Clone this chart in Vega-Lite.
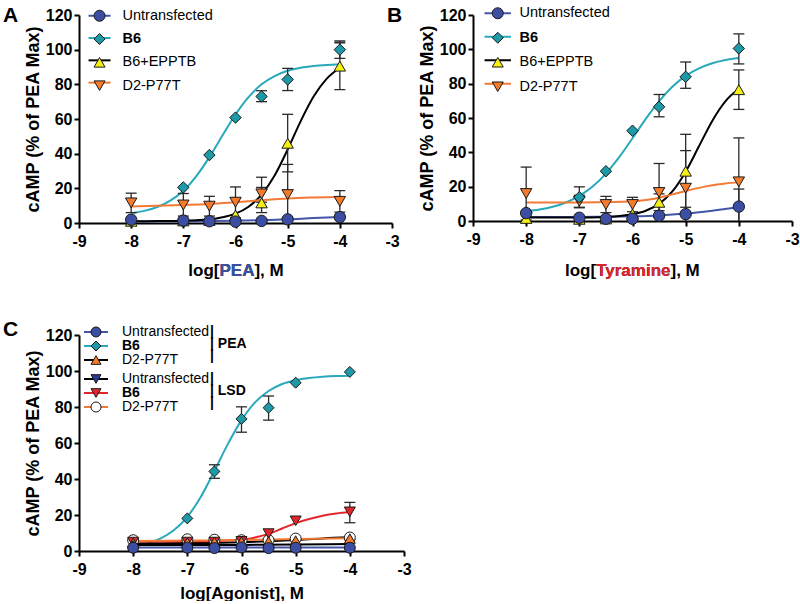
{
"$schema": "https://vega.github.io/schema/vega-lite/v6.json",
"background": "white",
"padding": {"left": 3, "top": 5, "right": 0, "bottom": 0},
"config": {
 "font": "Liberation Sans",
 "view": {"stroke": null},
 "axis": {"domainColor": "#000", "domainWidth": 2, "tickColor": "#000", "tickWidth": 2, "tickSize": 5, "labelFont": "Liberation Sans", "labelFontSize": 16, "labelFontWeight": "bold", "labelColor": "#000", "titleFont": "Liberation Sans", "titleFontSize": 17, "titleFontWeight": "bold", "titleColor": "#000", "grid": false, "labelFlush": false, "labelOverlap": false},
 "axisY": {"titleFontSize": 18, "titlePadding": 3, "labelPadding": 2},
 "axisX": {"labelPadding": 5, "titlePadding": 8},
 "legend": {"labelFont": "Liberation Sans", "labelColor": "#000", "titleColor": "#000", "padding": 0, "offset": 0, "direction": "vertical", "columns": 1}
},
"datasets": {
"crv": [
{"p":"A","s":"Untransfected","x":-8,"y":0.8},{"p":"A","s":"Untransfected","x":-7,"y":1.0},{"p":"A","s":"Untransfected","x":-6,"y":1.3},{"p":"A","s":"Untransfected","x":-5.5,"y":1.6},{"p":"A","s":"Untransfected","x":-5,"y":2.1},{"p":"A","s":"Untransfected","x":-4.5,"y":2.9},{"p":"A","s":"Untransfected","x":-4,"y":3.5},
{"p":"A","s":"B6","x":-8,"y":5.7},{"p":"A","s":"B6","x":-7.75,"y":7.0},{"p":"A","s":"B6","x":-7.5,"y":9.2},{"p":"A","s":"B6","x":-7.25,"y":12.9},{"p":"A","s":"B6","x":-7,"y":18.6},{"p":"A","s":"B6","x":-6.75,"y":27.1},{"p":"A","s":"B6","x":-6.5,"y":38.0},{"p":"A","s":"B6","x":-6.25,"y":50.5},{"p":"A","s":"B6","x":-6,"y":62.6},{"p":"A","s":"B6","x":-5.75,"y":72.6},{"p":"A","s":"B6","x":-5.5,"y":80.0},{"p":"A","s":"B6","x":-5.25,"y":84.8},{"p":"A","s":"B6","x":-5,"y":87.8},{"p":"A","s":"B6","x":-4.75,"y":89.6},{"p":"A","s":"B6","x":-4.5,"y":90.6},{"p":"A","s":"B6","x":-4.25,"y":91.2},{"p":"A","s":"B6","x":-4,"y":91.6},
{"p":"A","s":"B6+EPPTB","x":-8,"y":1.0},{"p":"A","s":"B6+EPPTB","x":-7.5,"y":1.1},{"p":"A","s":"B6+EPPTB","x":-7,"y":1.3},{"p":"A","s":"B6+EPPTB","x":-6.75,"y":1.6},{"p":"A","s":"B6+EPPTB","x":-6.5,"y":2.1},{"p":"A","s":"B6+EPPTB","x":-6.25,"y":3.3},{"p":"A","s":"B6+EPPTB","x":-6,"y":5.4},{"p":"A","s":"B6+EPPTB","x":-5.75,"y":9.4},{"p":"A","s":"B6+EPPTB","x":-5.5,"y":16.4},{"p":"A","s":"B6+EPPTB","x":-5.25,"y":27.4},{"p":"A","s":"B6+EPPTB","x":-5,"y":42.4},{"p":"A","s":"B6+EPPTB","x":-4.75,"y":58.8},{"p":"A","s":"B6+EPPTB","x":-4.5,"y":73.1},{"p":"A","s":"B6+EPPTB","x":-4.25,"y":83.3},{"p":"A","s":"B6+EPPTB","x":-4,"y":89.6},
{"p":"A","s":"D2-P77T","x":-8,"y":9.5},{"p":"A","s":"D2-P77T","x":-7,"y":10.4},{"p":"A","s":"D2-P77T","x":-6.5,"y":11.0},{"p":"A","s":"D2-P77T","x":-6,"y":12.0},{"p":"A","s":"D2-P77T","x":-5.5,"y":13.2},{"p":"A","s":"D2-P77T","x":-5,"y":14.2},{"p":"A","s":"D2-P77T","x":-4.5,"y":14.7},{"p":"A","s":"D2-P77T","x":-4,"y":15.0},
{"p":"B","s":"Untransfected","x":-8,"y":2.3},{"p":"B","s":"Untransfected","x":-7,"y":2.4},{"p":"B","s":"Untransfected","x":-6.5,"y":2.5},{"p":"B","s":"Untransfected","x":-6,"y":2.7},{"p":"B","s":"Untransfected","x":-5.5,"y":3.2},{"p":"B","s":"Untransfected","x":-5,"y":4.3},{"p":"B","s":"Untransfected","x":-4.5,"y":6.0},{"p":"B","s":"Untransfected","x":-4,"y":8.0},
{"p":"B","s":"B6","x":-8,"y":5.65},{"p":"B","s":"B6","x":-7.75,"y":6.66},{"p":"B","s":"B6","x":-7.5,"y":8.27},{"p":"B","s":"B6","x":-7.25,"y":10.79},{"p":"B","s":"B6","x":-7,"y":14.6},{"p":"B","s":"B6","x":-6.75,"y":20.06},{"p":"B","s":"B6","x":-6.5,"y":27.64},{"p":"B","s":"B6","x":-6.25,"y":37.2},{"p":"B","s":"B6","x":-6,"y":48.2},{"p":"B","s":"B6","x":-5.75,"y":59.5},{"p":"B","s":"B6","x":-5.5,"y":69.7},{"p":"B","s":"B6","x":-5.25,"y":78.2},{"p":"B","s":"B6","x":-5,"y":84.5},{"p":"B","s":"B6","x":-4.75,"y":88.9},{"p":"B","s":"B6","x":-4.5,"y":91.9},{"p":"B","s":"B6","x":-4.25,"y":93.8},{"p":"B","s":"B6","x":-4,"y":95.0},
{"p":"B","s":"B6+EPPTB","x":-8,"y":2.0},{"p":"B","s":"B6+EPPTB","x":-7,"y":2.0},{"p":"B","s":"B6+EPPTB","x":-6.5,"y":2.4},{"p":"B","s":"B6+EPPTB","x":-6.25,"y":2.9},{"p":"B","s":"B6+EPPTB","x":-6,"y":3.9},{"p":"B","s":"B6+EPPTB","x":-5.75,"y":5.95},{"p":"B","s":"B6+EPPTB","x":-5.5,"y":9.95},{"p":"B","s":"B6+EPPTB","x":-5.25,"y":17.2},{"p":"B","s":"B6+EPPTB","x":-5,"y":28.7},{"p":"B","s":"B6+EPPTB","x":-4.75,"y":43.5},{"p":"B","s":"B6+EPPTB","x":-4.5,"y":58.3},{"p":"B","s":"B6+EPPTB","x":-4.25,"y":69.8},{"p":"B","s":"B6+EPPTB","x":-4,"y":77.0},
{"p":"B","s":"D2-P77T","x":-8,"y":10.8},{"p":"B","s":"D2-P77T","x":-7,"y":10.8},{"p":"B","s":"D2-P77T","x":-6.5,"y":11.0},{"p":"B","s":"D2-P77T","x":-6,"y":11.5},{"p":"B","s":"D2-P77T","x":-5.75,"y":12.2},{"p":"B","s":"D2-P77T","x":-5.5,"y":13.5},{"p":"B","s":"D2-P77T","x":-5.25,"y":15.5},{"p":"B","s":"D2-P77T","x":-5,"y":17.5},{"p":"B","s":"D2-P77T","x":-4.75,"y":19.3},{"p":"B","s":"D2-P77T","x":-4.5,"y":20.8},{"p":"B","s":"D2-P77T","x":-4.25,"y":21.9},{"p":"B","s":"D2-P77T","x":-4,"y":22.5},
{"p":"C","g":"PEA","s":"Untransfected","x":-8,"y":1.9},{"p":"C","g":"PEA","s":"Untransfected","x":-6,"y":1.9},{"p":"C","g":"PEA","s":"Untransfected","x":-4,"y":1.9},
{"p":"C","g":"PEA","s":"B6","x":-8,"y":2.73},{"p":"C","g":"PEA","s":"B6","x":-7.75,"y":4.22},{"p":"C","g":"PEA","s":"B6","x":-7.5,"y":6.88},{"p":"C","g":"PEA","s":"B6","x":-7.25,"y":11.5},{"p":"C","g":"PEA","s":"B6","x":-7,"y":19.0},{"p":"C","g":"PEA","s":"B6","x":-6.75,"y":30.2},{"p":"C","g":"PEA","s":"B6","x":-6.5,"y":44.5},{"p":"C","g":"PEA","s":"B6","x":-6.25,"y":59.5},{"p":"C","g":"PEA","s":"B6","x":-6,"y":72.7},{"p":"C","g":"PEA","s":"B6","x":-5.75,"y":82.6},{"p":"C","g":"PEA","s":"B6","x":-5.5,"y":88.9},{"p":"C","g":"PEA","s":"B6","x":-5.25,"y":92.8},{"p":"C","g":"PEA","s":"B6","x":-5,"y":94.9},{"p":"C","g":"PEA","s":"B6","x":-4.75,"y":96.1},{"p":"C","g":"PEA","s":"B6","x":-4.5,"y":96.8},{"p":"C","g":"PEA","s":"B6","x":-4.25,"y":97.2},{"p":"C","g":"PEA","s":"B6","x":-4,"y":97.4},
{"p":"C","g":"PEA","s":"D2-P77T","x":-8,"y":4.2},{"p":"C","g":"PEA","s":"D2-P77T","x":-7,"y":4.4},{"p":"C","g":"PEA","s":"D2-P77T","x":-6,"y":4.9},{"p":"C","g":"PEA","s":"D2-P77T","x":-5.5,"y":5.4},{"p":"C","g":"PEA","s":"D2-P77T","x":-5,"y":6.1},{"p":"C","g":"PEA","s":"D2-P77T","x":-4.5,"y":7.0},{"p":"C","g":"PEA","s":"D2-P77T","x":-4,"y":7.6},
{"p":"C","g":"LSD","s":"Untransfected","x":-8,"y":3.3},{"p":"C","g":"LSD","s":"Untransfected","x":-6,"y":3.4},{"p":"C","g":"LSD","s":"Untransfected","x":-5,"y":3.6},{"p":"C","g":"LSD","s":"Untransfected","x":-4,"y":3.9},
{"p":"C","g":"LSD","s":"B6","x":-8,"y":5.3},{"p":"C","g":"LSD","s":"B6","x":-7,"y":5.4},{"p":"C","g":"LSD","s":"B6","x":-6.5,"y":5.6},{"p":"C","g":"LSD","s":"B6","x":-6,"y":6.2},{"p":"C","g":"LSD","s":"B6","x":-5.75,"y":7.5},{"p":"C","g":"LSD","s":"B6","x":-5.5,"y":9.5},{"p":"C","g":"LSD","s":"B6","x":-5.25,"y":12.5},{"p":"C","g":"LSD","s":"B6","x":-5,"y":15.5},{"p":"C","g":"LSD","s":"B6","x":-4.75,"y":17.8},{"p":"C","g":"LSD","s":"B6","x":-4.5,"y":19.6},{"p":"C","g":"LSD","s":"B6","x":-4.25,"y":20.8},{"p":"C","g":"LSD","s":"B6","x":-4,"y":21.6},
{"p":"C","g":"LSD","s":"D2-P77T","x":-8,"y":5.6},{"p":"C","g":"LSD","s":"D2-P77T","x":-7,"y":5.8},{"p":"C","g":"LSD","s":"D2-P77T","x":-6,"y":6.1},{"p":"C","g":"LSD","s":"D2-P77T","x":-5,"y":6.7},{"p":"C","g":"LSD","s":"D2-P77T","x":-4,"y":7.1}
],
"pts": [
{"p":"A","s":"D2-P77T","x":-8,"y":11.6,"lo":6,"hi":17.2},{"p":"A","s":"D2-P77T","x":-7,"y":10.4,"lo":4,"hi":17},{"p":"A","s":"D2-P77T","x":-6.5,"y":9.7,"lo":4,"hi":15.4},{"p":"A","s":"D2-P77T","x":-6,"y":12,"lo":3,"hi":20.8},{"p":"A","s":"D2-P77T","x":-5.5,"y":16.8,"lo":12,"hi":20.5},{"p":"A","s":"D2-P77T","x":-5,"y":16.4,"lo":0,"hi":33.8},{"p":"A","s":"D2-P77T","x":-4,"y":12.5,"lo":6.3,"hi":18.7},
{"p":"A","s":"B6","x":-7,"y":20.5},{"p":"A","s":"B6","x":-6.5,"y":39.2},{"p":"A","s":"B6","x":-6,"y":60.8},{"p":"A","s":"B6","x":-5.5,"y":73,"lo":70,"hi":76.3},{"p":"A","s":"B6","x":-5,"y":82.8,"lo":76.4,"hi":89.2},{"p":"A","s":"B6","x":-4,"y":100,"lo":95,"hi":105},
{"p":"A","s":"B6+EPPTB","x":-8,"y":1.0},{"p":"A","s":"B6+EPPTB","x":-7,"y":1.2},{"p":"A","s":"B6+EPPTB","x":-6.5,"y":1.5},{"p":"A","s":"B6+EPPTB","x":-6,"y":4.6},{"p":"A","s":"B6+EPPTB","x":-5.5,"y":11.6,"lo":6,"hi":26.4},{"p":"A","s":"B6+EPPTB","x":-5,"y":46,"lo":29.5,"hi":62.7},{"p":"A","s":"B6+EPPTB","x":-4,"y":90.5,"lo":77,"hi":104},
{"p":"A","s":"Untransfected","x":-8,"y":1.9},{"p":"A","s":"Untransfected","x":-7,"y":1.4},{"p":"A","s":"Untransfected","x":-6.5,"y":1.0},{"p":"A","s":"Untransfected","x":-6,"y":0.8},{"p":"A","s":"Untransfected","x":-5.5,"y":1.2},{"p":"A","s":"Untransfected","x":-5,"y":2.1},{"p":"A","s":"Untransfected","x":-4,"y":3.4},
{"p":"B","s":"D2-P77T","x":-8,"y":16,"lo":0.6,"hi":31.4},{"p":"B","s":"D2-P77T","x":-7,"y":11.5,"lo":8,"hi":15},{"p":"B","s":"D2-P77T","x":-6.5,"y":9.6,"lo":4.9,"hi":14.3},{"p":"B","s":"D2-P77T","x":-6,"y":9.6,"lo":5.4,"hi":13.8},{"p":"B","s":"D2-P77T","x":-5.5,"y":16.6,"lo":0,"hi":33.5},{"p":"B","s":"D2-P77T","x":-5,"y":19.1,"lo":0,"hi":41},{"p":"B","s":"D2-P77T","x":-4,"y":22.8,"lo":0,"hi":48.4},
{"p":"B","s":"B6","x":-8,"y":5.0},{"p":"B","s":"B6","x":-7,"y":13.8,"lo":7.7,"hi":19.9},{"p":"B","s":"B6","x":-6.5,"y":29},{"p":"B","s":"B6","x":-6,"y":52.6},{"p":"B","s":"B6","x":-5.5,"y":66.5,"lo":60.7,"hi":73.7},{"p":"B","s":"B6","x":-5,"y":84,"lo":77.3,"hi":92.6},{"p":"B","s":"B6","x":-4,"y":100.5,"lo":91.5,"hi":109},
{"p":"B","s":"B6+EPPTB","x":-8,"y":1.5},{"p":"B","s":"B6+EPPTB","x":-7,"y":1.0},{"p":"B","s":"B6+EPPTB","x":-6.5,"y":1.2},{"p":"B","s":"B6+EPPTB","x":-6,"y":4.0},{"p":"B","s":"B6+EPPTB","x":-5.5,"y":10.9,"lo":6,"hi":15.8},{"p":"B","s":"B6+EPPTB","x":-5,"y":29,"lo":8,"hi":50.5},{"p":"B","s":"B6+EPPTB","x":-4,"y":76.5,"lo":65,"hi":88},
{"p":"B","s":"Untransfected","x":-8,"y":4.6},{"p":"B","s":"Untransfected","x":-7,"y":1.9},{"p":"B","s":"Untransfected","x":-6.5,"y":1.3},{"p":"B","s":"Untransfected","x":-6,"y":1.3},{"p":"B","s":"Untransfected","x":-5.5,"y":3.1},{"p":"B","s":"Untransfected","x":-5,"y":4.0},{"p":"B","s":"Untransfected","x":-4,"y":8.4,"lo":0,"hi":18.6},
{"p":"C","g":"LSD","s":"Untransfected","x":-8,"y":3.4},{"p":"C","g":"LSD","s":"Untransfected","x":-7,"y":3.5},{"p":"C","g":"LSD","s":"Untransfected","x":-6.5,"y":3.5},{"p":"C","g":"LSD","s":"Untransfected","x":-6,"y":3.6},{"p":"C","g":"LSD","s":"Untransfected","x":-5.5,"y":3.6},{"p":"C","g":"LSD","s":"Untransfected","x":-5,"y":3.8},{"p":"C","g":"LSD","s":"Untransfected","x":-4,"y":4.0},
{"p":"C","g":"LSD","s":"D2-P77T","x":-8,"y":6.0},{"p":"C","g":"LSD","s":"D2-P77T","x":-7,"y":6.5},{"p":"C","g":"LSD","s":"D2-P77T","x":-6.5,"y":6.3},{"p":"C","g":"LSD","s":"D2-P77T","x":-6,"y":6.0},{"p":"C","g":"LSD","s":"D2-P77T","x":-5.5,"y":6.0},{"p":"C","g":"LSD","s":"D2-P77T","x":-5,"y":6.9},{"p":"C","g":"LSD","s":"D2-P77T","x":-4,"y":7.5},
{"p":"C","g":"LSD","s":"B6","x":-8,"y":5.0},{"p":"C","g":"LSD","s":"B6","x":-7,"y":5.0},{"p":"C","g":"LSD","s":"B6","x":-6.5,"y":5.0},{"p":"C","g":"LSD","s":"B6","x":-6,"y":5.4},{"p":"C","g":"LSD","s":"B6","x":-5.5,"y":9.7},{"p":"C","g":"LSD","s":"B6","x":-5,"y":16.8},{"p":"C","g":"LSD","s":"B6","x":-4,"y":21.8,"lo":15.7,"hi":27},
{"p":"C","g":"PEA","s":"D2-P77T","x":-8,"y":4.5},{"p":"C","g":"PEA","s":"D2-P77T","x":-7,"y":4.7},{"p":"C","g":"PEA","s":"D2-P77T","x":-6.5,"y":5.0},{"p":"C","g":"PEA","s":"D2-P77T","x":-6,"y":5.2},{"p":"C","g":"PEA","s":"D2-P77T","x":-5.5,"y":5.3},{"p":"C","g":"PEA","s":"D2-P77T","x":-5,"y":5.8},{"p":"C","g":"PEA","s":"D2-P77T","x":-4,"y":6.9},
{"p":"C","g":"PEA","s":"B6","x":-8,"y":2.6},{"p":"C","g":"PEA","s":"B6","x":-7,"y":18.1},{"p":"C","g":"PEA","s":"B6","x":-6.5,"y":44.2,"lo":40.4,"hi":47.9},{"p":"C","g":"PEA","s":"B6","x":-6,"y":73.4,"lo":66,"hi":80.1},{"p":"C","g":"PEA","s":"B6","x":-5.5,"y":79.6,"lo":72.7,"hi":86.1},{"p":"C","g":"PEA","s":"B6","x":-5,"y":93.5},{"p":"C","g":"PEA","s":"B6","x":-4,"y":99.5},
{"p":"C","g":"PEA","s":"Untransfected","x":-8,"y":1.8},{"p":"C","g":"PEA","s":"Untransfected","x":-7,"y":1.8},{"p":"C","g":"PEA","s":"Untransfected","x":-6.5,"y":1.6},{"p":"C","g":"PEA","s":"Untransfected","x":-6,"y":2.0},{"p":"C","g":"PEA","s":"Untransfected","x":-5.5,"y":1.6},{"p":"C","g":"PEA","s":"Untransfected","x":-5,"y":1.8},{"p":"C","g":"PEA","s":"Untransfected","x":-4,"y":1.8}
]
},
"columns": 2,
"spacing": {"row": 112, "column": 69},
"bounds": "flush",
"resolve": {"scale": {"color": "independent", "fill": "independent", "shape": "independent", "stroke": "independent"}},
"concat": [
 {
  "width": 313, "height": 208,
  "title": {"text": "A", "anchor": "start", "frame": "group", "orient": "top", "offset": -14, "dx": -76, "dy": 22, "baseline": "alphabetic", "fontSize": 21, "fontWeight": "bold", "color": "#000"},
  "resolve": {"axis": {"x": "independent", "y": "independent"}},
  "layer": [
   {"data": {"name": "crv"}, "transform": [{"filter": "datum.p=='A'"}],
    "mark": {"type": "line", "interpolate": "monotone", "strokeWidth": 2},
    "encoding": {
     "x": {"field": "x", "type": "quantitative", "scale": {"domain": [-9, -3], "nice": false, "zero": false}, "axis": {"values": [-9,-8,-7,-6,-5,-4,-3], "labelExpr": "''+datum.value", "title": "log[PEA], M", "titleX": 108.8, "titleY": 52, "titleAlign": "left", "titleBaseline": "alphabetic"}},
     "y": {"field": "y", "type": "quantitative", "scale": {"domain": [0, 120], "nice": false, "zero": false}, "axis": {"values": [0,20,40,60,80,100,120], "title": "cAMP (% of PEA Max)"}},
     "color": {"field": "s", "type": "nominal", "scale": {"domain": ["B6","B6+EPPTB","D2-P77T","Untransfected"], "range": ["#27a9bb","#000000","#f37a35","#4355a6"]},
       "legend": {"orient": "none", "legendX": 13.3, "legendY": -6.5, "title": null, "values": ["Untransfected","B6","B6+EPPTB","D2-P77T"], "symbolType": "M-2,0H2", "symbolSize": 121, "symbolStrokeWidth": 2, "labelOpacity": 0, "labelFontSize": 14.5, "rowPadding": 7.3, "zindex": 1}}
    }},
   {"data": {"name": "pts"}, "transform": [{"filter": "datum.p=='A' && isValid(datum.hi)"}],
    "mark": {"type": "rule", "color": "#2a2a2a", "strokeWidth": 1.3},
    "encoding": {"x": {"field": "x", "type": "quantitative", "axis": null}, "y": {"field": "lo", "type": "quantitative", "axis": null}, "y2": {"field": "hi"}}},
   {"data": {"name": "pts"}, "transform": [{"filter": "datum.p=='A' && isValid(datum.hi)"}],
    "mark": {"type": "tick", "orient": "horizontal", "color": "#2a2a2a", "size": 11, "thickness": 1.3, "opacity": 1},
    "encoding": {"x": {"field": "x", "type": "quantitative", "axis": null}, "y": {"field": "hi", "type": "quantitative", "axis": null}}},
   {"data": {"name": "pts"}, "transform": [{"filter": "datum.p=='A' && isValid(datum.lo) && datum.lo > 0"}],
    "mark": {"type": "tick", "orient": "horizontal", "color": "#2a2a2a", "size": 11, "thickness": 1.3, "opacity": 1},
    "encoding": {"x": {"field": "x", "type": "quantitative", "axis": null}, "y": {"field": "lo", "type": "quantitative", "axis": null}}},
   {"data": {"name": "pts"}, "transform": [{"filter": "datum.p=='A'"}],
    "mark": {"type": "point", "filled": true, "size": 130, "opacity": 1, "strokeWidth": 1},
    "encoding": {
     "x": {"field": "x", "type": "quantitative", "axis": null},
     "y": {"field": "y", "type": "quantitative", "axis": null},
     "fill": {"field": "s", "type": "nominal", "scale": {"domain": ["Untransfected","B6","B6+EPPTB","D2-P77T"], "range": ["#3c4ea4","#1d9aa8","#f5ef12","#f47a2c"]},
       "legend": {"orient": "none", "legendX": 13.3, "legendY": -6.5, "title": null, "symbolSize": 121, "symbolStrokeWidth": 1, "labelFontSize": 14.5, "labelOffset": 15.7, "labelFontWeight": {"expr": "datum.label == 'B6' ? 'bold' : 'normal'"}, "rowPadding": 7.3, "zindex": 2}},
     "stroke": {"field": "s", "type": "nominal", "scale": {"domain": ["Untransfected","B6","B6+EPPTB","D2-P77T"], "range": ["#1a1a1a","#1a1a1a","#1a1a1a","#1a1a1a"]},
       "legend": {"orient": "none", "legendX": 13.3, "legendY": -6.5, "title": null, "symbolSize": 121, "symbolStrokeWidth": 1, "labelFontSize": 14.5, "labelOffset": 15.7, "labelFontWeight": {"expr": "datum.label == 'B6' ? 'bold' : 'normal'"}, "rowPadding": 7.3, "zindex": 2}},
     "shape": {"field": "s", "type": "nominal", "scale": {"domain": ["Untransfected","B6","B6+EPPTB","D2-P77T"], "range": ["circle","diamond","triangle-up","triangle-down"]},
       "legend": {"orient": "none", "legendX": 13.3, "legendY": -6.5, "title": null, "symbolSize": 121, "symbolStrokeWidth": 1, "labelFontSize": 14.5, "labelOffset": 15.7, "labelFontWeight": {"expr": "datum.label == 'B6' ? 'bold' : 'normal'"}, "rowPadding": 7.3, "zindex": 2}}
    }},
   {"data": {"name": "pts"}, "transform": [{"filter": "datum.p=='A'"}],
    "mark": {"type": "point", "opacity": 0},
    "encoding": {
     "x": {"field": "x", "type": "quantitative", "axis": {"orient": "bottom", "title": "PEA", "titleColor": "#3d50a5", "domain": false, "ticks": false, "labels": false, "titleX": 139.96, "titleY": 52, "titleAlign": "left", "titleBaseline": "alphabetic", "zindex": 1}},
     "y": {"field": "y", "type": "quantitative", "axis": null}
    }}
  ]
 },
 {
  "width": 319, "height": 206,
  "title": {"text": "B", "anchor": "start", "frame": "group", "orient": "top", "offset": -15, "dx": -86, "dy": 22, "baseline": "alphabetic", "fontSize": 21, "fontWeight": "bold", "color": "#000"},
  "resolve": {"axis": {"x": "independent", "y": "independent"}},
  "layer": [
   {"data": {"name": "crv"}, "transform": [{"filter": "datum.p=='B'"}],
    "mark": {"type": "line", "interpolate": "monotone", "strokeWidth": 2},
    "encoding": {
     "x": {"field": "x", "type": "quantitative", "scale": {"domain": [-9, -3], "nice": false, "zero": false}, "axis": {"values": [-9,-8,-7,-6,-5,-4,-3], "labelExpr": "''+datum.value", "title": "log[Tyramine], M", "titleX": 91.5, "titleY": 54, "titleAlign": "left", "titleBaseline": "alphabetic"}},
     "y": {"field": "y", "type": "quantitative", "scale": {"domain": [0, 120], "nice": false, "zero": false}, "axis": {"values": [0,20,40,60,80,100,120], "title": "cAMP (% of PEA Max)"}},
     "color": {"field": "s", "type": "nominal", "scale": {"domain": ["B6","B6+EPPTB","D2-P77T","Untransfected"], "range": ["#27a9bb","#000000","#f37a35","#4355a6"]},
       "legend": {"orient": "none", "legendX": 17.5, "legendY": -9, "title": null, "values": ["Untransfected","B6","B6+EPPTB","D2-P77T"], "symbolType": "M-2.4,0H2.4", "symbolSize": 121, "symbolStrokeWidth": 2, "labelOpacity": 0, "labelFontSize": 14.5, "rowPadding": 8.5, "zindex": 1}}
    }},
   {"data": {"name": "pts"}, "transform": [{"filter": "datum.p=='B' && isValid(datum.hi)"}],
    "mark": {"type": "rule", "color": "#2a2a2a", "strokeWidth": 1.3},
    "encoding": {"x": {"field": "x", "type": "quantitative", "axis": null}, "y": {"field": "lo", "type": "quantitative", "axis": null}, "y2": {"field": "hi"}}},
   {"data": {"name": "pts"}, "transform": [{"filter": "datum.p=='B' && isValid(datum.hi)"}],
    "mark": {"type": "tick", "orient": "horizontal", "color": "#2a2a2a", "size": 11, "thickness": 1.3, "opacity": 1},
    "encoding": {"x": {"field": "x", "type": "quantitative", "axis": null}, "y": {"field": "hi", "type": "quantitative", "axis": null}}},
   {"data": {"name": "pts"}, "transform": [{"filter": "datum.p=='B' && isValid(datum.lo) && datum.lo > 0"}],
    "mark": {"type": "tick", "orient": "horizontal", "color": "#2a2a2a", "size": 11, "thickness": 1.3, "opacity": 1},
    "encoding": {"x": {"field": "x", "type": "quantitative", "axis": null}, "y": {"field": "lo", "type": "quantitative", "axis": null}}},
   {"data": {"name": "pts"}, "transform": [{"filter": "datum.p=='B'"}],
    "mark": {"type": "point", "filled": true, "size": 130, "opacity": 1, "strokeWidth": 1},
    "encoding": {
     "x": {"field": "x", "type": "quantitative", "axis": null},
     "y": {"field": "y", "type": "quantitative", "axis": null},
     "fill": {"field": "s", "type": "nominal", "scale": {"domain": ["Untransfected","B6","B6+EPPTB","D2-P77T"], "range": ["#3c4ea4","#1d9aa8","#f5ef12","#f47a2c"]},
       "legend": {"orient": "none", "legendX": 17.5, "legendY": -9, "title": null, "symbolSize": 121, "symbolStrokeWidth": 1, "labelFontSize": 14.5, "labelOffset": 14.5, "labelFontWeight": {"expr": "datum.label == 'B6' ? 'bold' : 'normal'"}, "rowPadding": 8.5, "zindex": 2}},
     "stroke": {"field": "s", "type": "nominal", "scale": {"domain": ["Untransfected","B6","B6+EPPTB","D2-P77T"], "range": ["#1a1a1a","#1a1a1a","#1a1a1a","#1a1a1a"]},
       "legend": {"orient": "none", "legendX": 17.5, "legendY": -9, "title": null, "symbolSize": 121, "symbolStrokeWidth": 1, "labelFontSize": 14.5, "labelOffset": 14.5, "labelFontWeight": {"expr": "datum.label == 'B6' ? 'bold' : 'normal'"}, "rowPadding": 8.5, "zindex": 2}},
     "shape": {"field": "s", "type": "nominal", "scale": {"domain": ["Untransfected","B6","B6+EPPTB","D2-P77T"], "range": ["circle","diamond","triangle-up","triangle-down"]},
       "legend": {"orient": "none", "legendX": 17.5, "legendY": -9, "title": null, "symbolSize": 121, "symbolStrokeWidth": 1, "labelFontSize": 14.5, "labelOffset": 14.5, "labelFontWeight": {"expr": "datum.label == 'B6' ? 'bold' : 'normal'"}, "rowPadding": 8.5, "zindex": 2}}
    }},
   {"data": {"name": "pts"}, "transform": [{"filter": "datum.p=='B'"}],
    "mark": {"type": "point", "opacity": 0},
    "encoding": {
     "x": {"field": "x", "type": "quantitative", "axis": {"orient": "bottom", "title": "Tyramine", "titleColor": "#e5252b", "domain": false, "ticks": false, "labels": false, "titleX": 122.66, "titleY": 54, "titleAlign": "left", "titleBaseline": "alphabetic", "zindex": 1}},
     "y": {"field": "y", "type": "quantitative", "axis": null}
    }}
  ]
 },
 {
  "width": 325, "height": 216,
  "title": {"text": "C", "anchor": "start", "frame": "group", "orient": "top", "offset": -11, "dx": -76, "dy": 21, "baseline": "alphabetic", "fontSize": 21, "fontWeight": "bold", "color": "#000"},
  "resolve": {"scale": {"color": "independent", "fill": "independent", "shape": "independent", "stroke": "independent"}, "axis": {"x": "independent", "y": "independent"}},
  "layer": [
   {"data": {"name": "crv"}, "transform": [{"filter": "datum.p=='C' && datum.g=='PEA'"}],
    "mark": {"type": "line", "interpolate": "monotone", "strokeWidth": 2},
    "encoding": {
     "x": {"field": "x", "type": "quantitative", "scale": {"domain": [-9, -3], "nice": false, "zero": false}, "axis": {"values": [-9,-8,-7,-6,-5,-4,-3], "labelExpr": "''+datum.value", "title": "log[Agonist], M"}},
     "y": {"field": "y", "type": "quantitative", "scale": {"domain": [0, 120], "nice": false, "zero": false}, "axis": {"values": [0,20,40,60,80,100,120], "title": "cAMP (% of PEA Max)"}},
     "color": {"field": "s", "type": "nominal", "scale": {"domain": ["B6","D2-P77T","Untransfected"], "range": ["#27a9bb","#000000","#4355a6"]},
       "legend": {"orient": "none", "legendX": 10, "legendY": -10, "title": null, "values": ["Untransfected","B6","D2-P77T"], "symbolType": "M-2.4,0H2.4", "symbolSize": 100, "symbolStrokeWidth": 2, "labelOpacity": 0, "labelFontSize": 14, "rowPadding": -1, "zindex": 1}}
    }},
   {"data": {"name": "crv"}, "transform": [{"filter": "datum.p=='C' && datum.g=='LSD'"}],
    "mark": {"type": "line", "interpolate": "monotone", "strokeWidth": 2},
    "encoding": {
     "x": {"field": "x", "type": "quantitative", "axis": null},
     "y": {"field": "y", "type": "quantitative", "axis": null},
     "color": {"field": "s", "type": "nominal", "scale": {"domain": ["B6","D2-P77T","Untransfected"], "range": ["#e3262b","#f37a35","#000000"]},
       "legend": {"orient": "none", "legendX": 10, "legendY": 37, "title": null, "values": ["Untransfected","B6","D2-P77T"], "symbolType": "M-2.4,0H2.4", "symbolSize": 100, "symbolStrokeWidth": 2, "labelOpacity": 0, "labelFontSize": 14, "rowPadding": -1, "zindex": 1}}
   }},
  {"data": {"name": "pts"}, "transform": [{"filter": "datum.p=='C' && isValid(datum.hi)"}],
   "mark": {"type": "rule", "color": "#2a2a2a", "strokeWidth": 1.3},
   "encoding": {"x": {"field": "x", "type": "quantitative", "axis": null}, "y": {"field": "lo", "type": "quantitative", "axis": null}, "y2": {"field": "hi"}}},
  {"data": {"name": "pts"}, "transform": [{"filter": "datum.p=='C' && isValid(datum.hi)"}],
   "mark": {"type": "tick", "orient": "horizontal", "color": "#2a2a2a", "size": 11, "thickness": 1.3, "opacity": 1},
   "encoding": {"x": {"field": "x", "type": "quantitative", "axis": null}, "y": {"field": "hi", "type": "quantitative", "axis": null}}},
  {"data": {"name": "pts"}, "transform": [{"filter": "datum.p=='C' && isValid(datum.lo) && datum.lo > 0"}],
   "mark": {"type": "tick", "orient": "horizontal", "color": "#2a2a2a", "size": 11, "thickness": 1.3, "opacity": 1},
   "encoding": {"x": {"field": "x", "type": "quantitative", "axis": null}, "y": {"field": "lo", "type": "quantitative", "axis": null}}},
  {"data": {"name": "pts"}, "transform": [{"filter": "datum.p=='C' && datum.g=='LSD'"}],
   "mark": {"type": "point", "filled": true, "size": 120, "opacity": 1, "strokeWidth": 1},
   "encoding": {
    "x": {"field": "x", "type": "quantitative", "axis": null},
    "y": {"field": "y", "type": "quantitative", "axis": null},
    "fill": {"field": "s", "type": "nominal", "scale": {"domain": ["Untransfected","B6","D2-P77T"], "range": ["#2b3990","#e3262b","#ffffff"]},
      "legend": {"orient": "none", "legendX": 10, "legendY": 37, "title": ["|", "| LSD", "|"], "titleOrient": "right", "titleAnchor": "start", "titleBaseline": "top", "titleFontSize": 14, "titleFontWeight": "bold", "titleLineHeight": 12, "titlePadding": 1, "symbolSize": 100, "symbolStrokeWidth": 1, "labelFontSize": 14, "labelOffset": 19, "labelFontWeight": {"expr": "datum.label == 'B6' ? 'bold' : 'normal'"}, "rowPadding": -1, "zindex": 2}},
    "stroke": {"field": "s", "type": "nominal", "scale": {"domain": ["Untransfected","B6","D2-P77T"], "range": ["#1a1a1a","#1a1a1a","#1a1a1a"]},
      "legend": {"orient": "none", "legendX": 10, "legendY": 37, "title": ["|", "| LSD", "|"], "titleOrient": "right", "titleAnchor": "start", "titleBaseline": "top", "titleFontSize": 14, "titleFontWeight": "bold", "titleLineHeight": 12, "titlePadding": 1, "symbolSize": 100, "symbolStrokeWidth": 1, "labelFontSize": 14, "labelOffset": 19, "labelFontWeight": {"expr": "datum.label == 'B6' ? 'bold' : 'normal'"}, "rowPadding": -1, "zindex": 2}},
    "shape": {"field": "s", "type": "nominal", "scale": {"domain": ["Untransfected","B6","D2-P77T"], "range": ["triangle-down","triangle-down","circle"]},
      "legend": {"orient": "none", "legendX": 10, "legendY": 37, "title": ["|", "| LSD", "|"], "titleOrient": "right", "titleAnchor": "start", "titleBaseline": "top", "titleFontSize": 14, "titleFontWeight": "bold", "titleLineHeight": 12, "titlePadding": 1, "symbolSize": 100, "symbolStrokeWidth": 1, "labelFontSize": 14, "labelOffset": 19, "labelFontWeight": {"expr": "datum.label == 'B6' ? 'bold' : 'normal'"}, "rowPadding": -1, "zindex": 2}}
   }},
  {"data": {"name": "pts"}, "transform": [{"filter": "datum.p=='C' && datum.g=='PEA'"}],
   "mark": {"type": "point", "filled": true, "size": 120, "opacity": 1, "strokeWidth": 1},
   "encoding": {
    "x": {"field": "x", "type": "quantitative", "axis": null},
    "y": {"field": "y", "type": "quantitative", "axis": null},
    "fill": {"field": "s", "type": "nominal", "scale": {"domain": ["Untransfected","B6","D2-P77T"], "range": ["#3c4ea4","#1d9aa8","#f47a2c"]},
      "legend": {"orient": "none", "legendX": 10, "legendY": -10, "title": ["|", "| PEA", "|"], "titleOrient": "right", "titleAnchor": "start", "titleBaseline": "top", "titleFontSize": 14, "titleFontWeight": "bold", "titleLineHeight": 12, "titlePadding": 1, "symbolSize": 100, "symbolStrokeWidth": 1, "labelFontSize": 14, "labelOffset": 19, "labelFontWeight": {"expr": "datum.label == 'B6' ? 'bold' : 'normal'"}, "rowPadding": -1, "zindex": 2}},
    "stroke": {"field": "s", "type": "nominal", "scale": {"domain": ["Untransfected","B6","D2-P77T"], "range": ["#1a1a1a","#1a1a1a","#1a1a1a"]},
      "legend": {"orient": "none", "legendX": 10, "legendY": -10, "title": ["|", "| PEA", "|"], "titleOrient": "right", "titleAnchor": "start", "titleBaseline": "top", "titleFontSize": 14, "titleFontWeight": "bold", "titleLineHeight": 12, "titlePadding": 1, "symbolSize": 100, "symbolStrokeWidth": 1, "labelFontSize": 14, "labelOffset": 19, "labelFontWeight": {"expr": "datum.label == 'B6' ? 'bold' : 'normal'"}, "rowPadding": -1, "zindex": 2}},
    "shape": {"field": "s", "type": "nominal", "scale": {"domain": ["Untransfected","B6","D2-P77T"], "range": ["circle","diamond","triangle-up"]},
      "legend": {"orient": "none", "legendX": 10, "legendY": -10, "title": ["|", "| PEA", "|"], "titleOrient": "right", "titleAnchor": "start", "titleBaseline": "top", "titleFontSize": 14, "titleFontWeight": "bold", "titleLineHeight": 12, "titlePadding": 1, "symbolSize": 100, "symbolStrokeWidth": 1, "labelFontSize": 14, "labelOffset": 19, "labelFontWeight": {"expr": "datum.label == 'B6' ? 'bold' : 'normal'"}, "rowPadding": -1, "zindex": 2}}
   }}
 ]
}
]
}
